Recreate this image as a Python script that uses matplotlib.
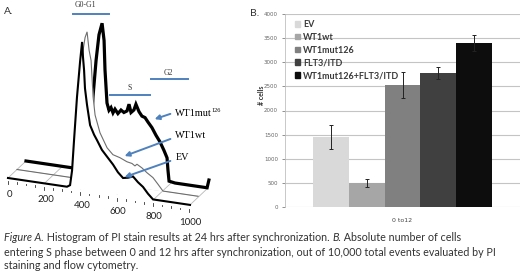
import numpy as np
import matplotlib.pyplot as plt
from matplotlib.transforms import Affine2D
from matplotlib.patches import Patch

# ---- panel A: PI histograms (channel value, trace height above the floor) ----
ev_pi = [0, 176, 324, 341, 352, 363, 379, 396, 407, 412, 418, 423, 434, 451, 473, 489,
         516, 544, 577, 604, 632, 659, 687, 714, 742, 769, 797, 835, 929, 1000]
ev_h = [0, 0, 0, 2, 17, 48, 91, 127, 147, 132, 119, 101, 85, 65, 56, 51,
        42, 36, 29, 22, 17, 18, 20, 15, 11, 5, 0, 0, 0, 0]

wt_pi = [0, 181, 302, 313, 330, 346, 363, 374, 385, 396, 407, 418, 429, 456, 495, 527,
         566, 604, 632, 648, 659, 687, 714, 747, 775, 802, 879, 995]
wt_h = [0, 0, 0, 0, 38, 89, 129, 142, 148, 130, 120, 84, 66, 49, 35, 29,
        27, 24, 23, 21, 23, 20, 16, 12, 6, 0, 0, 0]

mut_pi = [0, 242, 341, 357, 368, 385, 401, 418, 429, 434, 445, 456, 467, 478, 489, 505,
          522, 538, 555, 566, 577, 593, 604, 621, 637, 654, 670, 692, 714, 736, 758,
          775, 780, 786, 819, 995, 1005]
mut_h = [0, 0, 0, 31, 74, 111, 137, 149, 132, 103, 70, 63, 66, 61, 65, 61,
         65, 63, 65, 72, 64, 67, 73, 66, 62, 61, 57, 52, 45, 39, 31,
         24, 12, 1, 0, 0, 8]

axis_ticks = [0, 200, 400, 600, 800, 1000]
phases = ["G0-G1", "S", "G2"]

# ---- panel B: cells entering S phase ----
groups = ["EV", "WT1wt", "WT1mut126", "FLT3/ITD", "WT1mut126+FLT3/ITD"]
cells = [1450, 490, 2530, 2770, 3400]
cells_err = [240, 80, 270, 125, 165]
bar_colors = ["#d9d9d9", "#a6a6a6", "#808080", "#404040", "#0d0d0d"]
category = ["0 to12"]

caption = [
    [("Figure A.", "italic"), (" Histogram of PI stain results at 24 hrs after synchronization. ", "normal"),
     ("B.", "italic"), (" Absolute number of cells", "normal")],
    [("entering S phase between 0 and 12 hrs after synchronization, out of 10,000 total events evaluated by PI", "normal")],
    [("staining and flow cytometry.", "normal")],
]

blue = "#4f81bd"
serif = "Liberation Serif"
sans = "Lato"

fig = plt.figure(figsize=(5.2, 2.74), dpi=100)
cv = fig.add_axes([0, 0, 1, 1])
cv.set_xlim(0, 520)
cv.set_ylim(274, 0)
cv.set_autoscale_on(False)
cv.axis("off")

# waterfall geometry: x -> along the slanted axis, each layer shifted back
sx, sy = 0.182, 0.0269
dx, dy = 9, -8.5
ox, oy = 8, 178

floor_tr = Affine2D.from_values(sx, sy, dx, dy, ox, oy) + cv.transData
for v in axis_ticks:
    cv.plot([v, v], [0, 2], color="#b8b8b8", lw=0.6, transform=floor_tr, zorder=1)
cv.plot([0, 1000], [1, 1], color="#c8c8c8", lw=0.5, transform=floor_tr, zorder=1)

layers = [(mut_pi, mut_h, 2, "black", 2.3),
          (wt_pi, wt_h, 1, "#6e6e6e", 0.8),
          (ev_pi, ev_h, 0, "black", 1.5)]
z = 2
for pi, h, depth, col, lw in layers:
    tr = Affine2D.from_values(sx, sy, 0, -1, ox + dx * depth, oy + dy * depth) + cv.transData
    cv.fill_between(pi, 0, h, color="white", transform=tr, zorder=z, lw=0)
    cv.plot(pi, h, color=col, lw=lw, transform=tr, zorder=z + 0.5,
            solid_joinstyle="miter")
    z += 1

# tick marks and labels along the front axis
tick_tr = Affine2D.from_values(0.181, 0.028, 0, 1, 8, 181) + cv.transData
for v in range(0, 1001, 50):
    ln = 3 if v % 200 == 0 else 1.5
    cv.plot([v, v], [0, ln], color="#333333", lw=0.6, transform=tick_tr, zorder=6)
for v in axis_ticks:
    cv.text(v + 8, 13, str(v), transform=tick_tr, ha="center", va="center",
            fontsize=7, family=sans, color="#222222")

# phase bars
phase_pos = [(85, 5, 73, 109, 14), (130, 88, 110, 150, 95), (168, 73, 151, 188, 79)]
for name, (tx, ty, x0, x1, ly) in zip(phases, phase_pos):
    cv.text(tx, ty, name, ha="center", va="center", fontsize=5.6, family=serif,
            color="#333333")
    cv.plot([x0, x1], [ly, ly], color=blue, lw=1.4)

# arrows + trace labels
arrow_kw = dict(arrowstyle="-|>", color=blue, lw=1.4, mutation_scale=7)
cv.annotate("", xy=(152, 120), xytext=(173, 113), arrowprops=arrow_kw, zorder=8)
cv.annotate("", xy=(122, 157), xytext=(173, 138), arrowprops=arrow_kw, zorder=8)
cv.annotate("", xy=(122, 178), xytext=(173, 160), arrowprops=arrow_kw, zorder=8)
t = cv.text(175, 113, "WT1mut", va="center", fontsize=7.3, family=serif)
cv.annotate("126", xy=(1, 1), xycoords=t, va="top", ha="left", fontsize=4.5,
            family=serif)
cv.text(175, 136, "WT1wt", va="center", fontsize=7.3, family=serif)
cv.text(176, 158, "EV", va="center", fontsize=7.3, family=serif)

cv.text(4, 12, "A.", va="center", fontsize=7.5, family=sans, color="#333333")
cv.text(250, 13, "B.", va="center", fontsize=7.5, family=sans, color="#333333")

# ---- panel B axes ----
axb = fig.add_axes([285 / 520, 67 / 274, 235 / 520, 193 / 274])
w = 0.153
pos = (np.arange(len(groups)) - 2) * w
axb.bar(pos, cells, width=w, color=bar_colors, label=groups, zorder=2)
axb.errorbar(pos, cells, yerr=cells_err, fmt="none", ecolor="#222222",
             elinewidth=0.7, capsize=1.2, capthick=0.7, zorder=3)
axb.set_xlim(-0.5, 0.5)
axb.set_ylim(0, 4000)
axb.set_yticks(range(0, 4001, 500))
axb.set_xticks([0])
axb.set_xticklabels(category)
axb.tick_params(axis="x", length=0, labelsize=4.5, colors="#444444", pad=8)
axb.tick_params(axis="y", length=2, width=0.5, labelsize=4, colors="#666666", pad=3)
axb.yaxis.grid(True, color="#c4c4c4", lw=0.8, zorder=0)
axb.set_axisbelow(True)
for s in ["top", "right", "bottom"]:
    axb.spines[s].set_visible(False)
axb.spines["left"].set_color("#bfbfbf")
axb.spines["left"].set_linewidth(0.6)
cv.text(261, 95, "# cells", rotation=90, ha="center", va="center", fontsize=5,
        fontweight="bold", color="#333333", family=sans)

handles = [Patch(color=c) for c in bar_colors]
leg = axb.legend(handles, groups, loc="upper left", bbox_to_anchor=(295, 20),
                 bbox_transform=cv.transData, frameon=False, fontsize=6.5,
                 handlelength=0.6, handleheight=0.6, handletextpad=0.3,
                 labelspacing=0.42, borderpad=0, borderaxespad=0)
for txt in leg.get_texts():
    txt.set_color("#3a3a3a")
    txt.set_fontweight("bold")
    txt.set_family(sans)

# ---- caption ----
cap_col = "#333333"
cap_size = 7.75
rend = fig.canvas.get_renderer()
line_y = [241, 256, 269]
for segs, y in zip(caption, line_y):
    x = 4
    for s, st in segs:
        a = cv.text(x, y, s, style=st, fontsize=cap_size, family=sans, color=cap_col,
                    va="baseline", ha="left")
        x += a.get_window_extent(rend).width

fig.savefig("out.png", dpi=100)
